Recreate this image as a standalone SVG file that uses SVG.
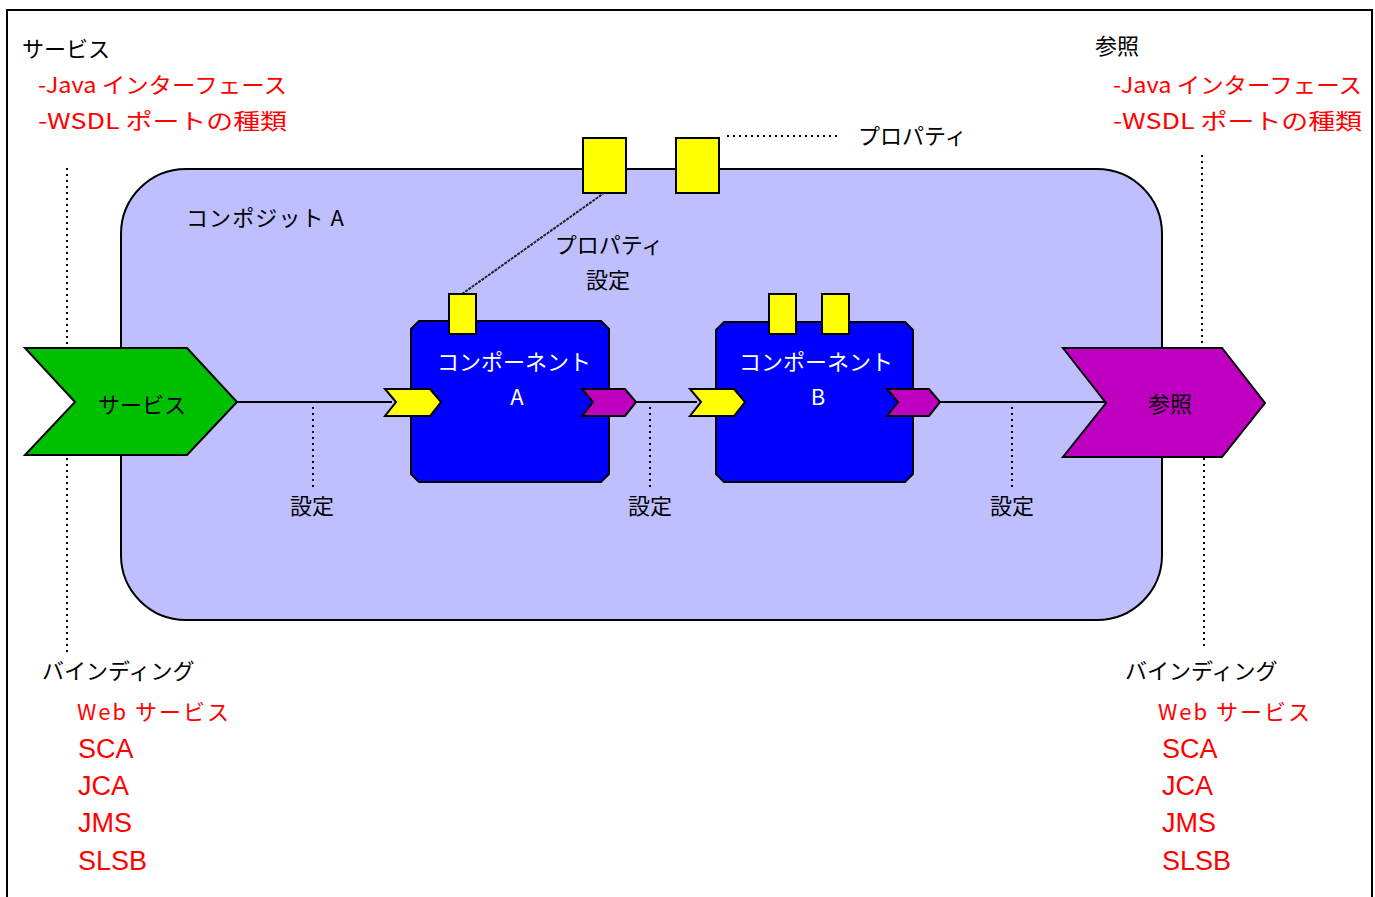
<svg xmlns="http://www.w3.org/2000/svg" width="1375" height="897" viewBox="0 0 1375 897">
<style>
.jp{font-family:"Noto Sans CJK JP","Noto Sans",sans-serif;font-size:22px;fill:#000}
.red{fill:#FF0000}
.wht{fill:#FFFFFF}
.lat{font-family:"Liberation Sans",Arial,sans-serif;font-size:27px;fill:#FF0000}
.edge{stroke:#000;stroke-width:2;fill:none}
.dot{stroke:#000;stroke-width:2;fill:none;stroke-dasharray:2 4}
.prop{fill:#FFFF00;stroke:#000;stroke-width:2}
.in{fill:#FFFF00;stroke:#000;stroke-width:2}
.out{fill:#C000C0;stroke:#000;stroke-width:2}
.comp{fill:#0000FF;stroke:#000;stroke-width:2}
</style>
<rect x="0" y="0" width="1375" height="897" fill="#FFFFFF"/>
<rect x="7" y="10" width="1365" height="900" fill="none" stroke="#000" stroke-width="2"/>

<g id="composite">
<rect x="121" y="169" width="1041" height="451" rx="65" ry="65" fill="#BFBFFF" stroke="#000" stroke-width="2"/>
<text class="jp" x="186" y="226" textLength="158" lengthAdjust="spacing">コンポジット A</text>
<rect id="cprop1" class="prop" x="583" y="138" width="43" height="55"/>
<rect id="cprop2" class="prop" x="676" y="138" width="43" height="55"/>
</g>

<g id="labels-top">
<text class="jp" x="22" y="57">サービス</text>
<text class="jp red" x="38" y="93" textLength="249" lengthAdjust="spacingAndGlyphs">-Java インターフェース</text>
<text class="jp red" x="38" y="129" textLength="249" lengthAdjust="spacingAndGlyphs">-WSDL ポートの種類</text>
<text class="jp" x="1095" y="54">参照</text>
<text class="jp red" x="1113" y="93" textLength="249" lengthAdjust="spacingAndGlyphs">-Java インターフェース</text>
<text class="jp red" x="1113" y="129" textLength="249" lengthAdjust="spacingAndGlyphs">-WSDL ポートの種類</text>
<text class="jp" x="858" y="144">プロパティ</text>
</g>

<g id="connectors">
<line class="edge" x1="237" y1="402" x2="392" y2="402"/>
<line class="edge" x1="636" y1="402" x2="697" y2="402"/>
<line class="edge" x1="940" y1="402" x2="1106" y2="402"/>
<line x1="462" y1="294" x2="604" y2="193" stroke="#222" stroke-width="2" stroke-dasharray="3 1"/>
<line class="dot" x1="727" y1="136" x2="838" y2="136" stroke-dasharray="4 2"/>
<line class="dot" x1="67" y1="168" x2="67" y2="360"/>
<line class="dot" x1="67" y1="446" x2="67" y2="656"/>
<line class="dot" x1="1202" y1="155" x2="1202" y2="360"/>
<line class="dot" x1="1204" y1="446" x2="1204" y2="650"/>
<line class="dot" x1="313" y1="407" x2="313" y2="490"/>
<line class="dot" x1="650" y1="407" x2="650" y2="490"/>
<line class="dot" x1="1012" y1="407" x2="1012" y2="490"/>
</g>

<g id="service">
<polygon points="25,348 187,348 237,402 187,455 25,455 75,402" fill="#00BF00" stroke="#000" stroke-width="2"/>
<text class="jp" x="142" y="413" text-anchor="middle">サービス</text>
</g>

<g id="reference">
<polygon points="1063,348 1222,348 1265,403 1222,457 1063,457 1106,403" fill="#C000C0" stroke="#000" stroke-width="2"/>
<text class="jp" x="1170" y="412" text-anchor="middle">参照</text>
</g>

<g id="componentA">
<polygon class="comp" points="419,321 601,321 609,329 609,474 601,482 419,482 411,474 411,329"/>
<rect class="prop" x="449" y="294" width="27" height="40"/>
<text class="jp wht" x="514" y="370" text-anchor="middle">コンポーネント</text>
<text class="jp wht" x="517" y="405" text-anchor="middle">A</text>
<polygon class="in" points="385,389 430,389 441,402 430,416 385,416 396,402"/>
<polygon class="out" points="582,389 625,389 636,402 625,416 582,416 593,402"/>
</g>

<g id="componentB">
<polygon class="comp" points="724,322 905,322 913,330 913,474 905,482 724,482 716,474 716,330"/>
<rect class="prop" x="769" y="294" width="27" height="40"/>
<rect class="prop" x="822" y="294" width="27" height="40"/>
<text class="jp wht" x="816" y="370" text-anchor="middle">コンポーネント</text>
<text class="jp wht" x="818" y="405" text-anchor="middle">B</text>
<polygon class="in" points="690,389 734,389 745,402 734,416 690,416 701,402"/>
<polygon class="out" points="887,389 929,389 940,402 929,416 887,416 898,402"/>
</g>

<g id="config-labels">
<text class="jp" x="609" y="253" text-anchor="middle">プロパティ</text>
<text class="jp" x="608" y="288" text-anchor="middle">設定</text>
<text class="jp" x="312" y="514" text-anchor="middle">設定</text>
<text class="jp" x="650" y="514" text-anchor="middle">設定</text>
<text class="jp" x="1012" y="514" text-anchor="middle">設定</text>
</g>

<g id="bindings-left">
<text class="jp" x="42" y="679">バインディング</text>
<text class="jp red" x="77" y="720" textLength="152" lengthAdjust="spacing">Web サービス</text>
<text class="lat" x="78" y="758">SCA</text>
<text class="lat" x="78" y="795">JCA</text>
<text class="lat" x="78" y="832">JMS</text>
<text class="lat" x="78" y="870">SLSB</text>
</g>

<g id="bindings-right">
<text class="jp" x="1125" y="679">バインディング</text>
<text class="jp red" x="1158" y="720" textLength="152" lengthAdjust="spacing">Web サービス</text>
<text class="lat" x="1162" y="758">SCA</text>
<text class="lat" x="1162" y="795">JCA</text>
<text class="lat" x="1162" y="832">JMS</text>
<text class="lat" x="1162" y="870">SLSB</text>
</g>
</svg>
